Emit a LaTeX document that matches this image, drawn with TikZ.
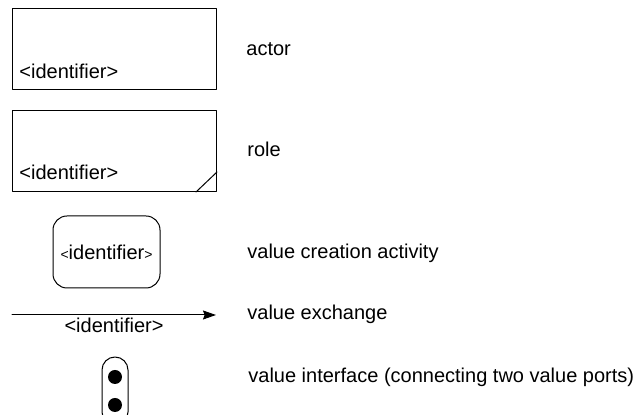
\documentclass[tikz,border=0pt]{standalone}
\usepackage{fontspec}
\setmainfont{Liberation Sans}
\usetikzlibrary{arrows.meta,positioning}

\begin{document}
\begin{tikzpicture}[x=0.5pt, y=-0.5pt, line cap=round, line join=round,
    font=\fontsize{10}{12}\selectfont,
    legendbox/.style={draw, line width=0.5pt, inner sep=0pt, minimum width=102pt, minimum height=40.5pt},
    legendtext/.style={anchor=base west, inner sep=0pt},
    ident/.style={inner sep=0pt},
    port/.style={circle, fill=black, inner sep=0pt, minimum size=7pt}]
  \useasboundingbox (0,0) rectangle (638,415);

  % actor
  \node[legendbox] (actor) at (114.5,49) {};
  \node[ident, anchor=base west] (actorid) at (19,79) {<identifier>};
  \node[legendtext] (actorlbl) at (246,56) {actor};

  % role, with the folded corner
  \node[legendbox] (role) at (114.5,151) {};
  \node[ident, anchor=base west] (roleid) at (19,180) {<identifier>};
  \draw[line width=0.5pt] ([xshift=-10.5pt]role.south east) -- ([yshift=10pt]role.south east);
  \node[legendtext] (rolelbl) at (247,157) {role};

  % value creation activity
  \node[draw, line width=0.5pt, rounded corners=7pt, inner sep=0pt,
        minimum width=53.5pt, minimum height=36pt] (activity) at (106.5,252)
    {{\fontsize{7}{8}\selectfont<}identifier{\fontsize{7}{8}\selectfont>}};
  \node[legendtext] (activitylbl) at (247,259) {value creation activity};

  % value exchange
  \coordinate (exfrom) at (12,315);
  \coordinate (exto) at (216,315);
  \draw[line width=0.5pt, -{Stealth[length=6.5pt, width=4.5pt, inset=0.8pt]}] (exfrom) -- (exto);
  \node[ident, anchor=base] (exid) at (114,332.5) {<identifier>};
  \node[legendtext] (exlbl) at (247,320) {value exchange};

  % value interface with two ports
  \node[draw, line width=0.5pt, rounded corners=6.5pt, inner sep=0pt,
        minimum width=13pt, minimum height=34pt] (iface) at (115,391) {};
  \node[port] (portup) at (115,377) {};
  \node[port] (portdown) at (115,405) {};
  \node[legendtext] (ifacelbl) at (248,383) {value interface (connecting two value ports)};
\end{tikzpicture}
\end{document}
